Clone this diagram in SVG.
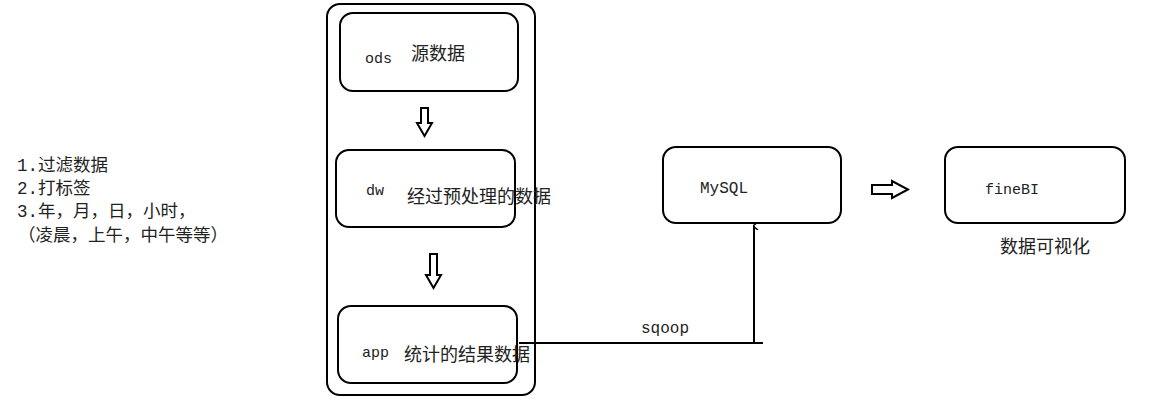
<svg xmlns="http://www.w3.org/2000/svg" width="1152" height="405" viewBox="0 0 1152 405">
<defs>
<style>
.box{fill:#fff;stroke:#000;stroke-width:2}
.harrow{fill:#fff;stroke:#000;stroke-width:2;stroke-linejoin:miter}
.mono{font-family:"Liberation Mono","Noto Sans CJK SC",monospace;fill:#222}
.cjk{font-family:"Noto Sans CJK SC","Noto Sans CJK TC",sans-serif;fill:#222}
.line{stroke:#000;stroke-width:2;fill:none}
</style>
<marker id="ah" markerWidth="8" markerHeight="8" refX="4" refY="1" orient="auto" markerUnits="userSpaceOnUse">
<path d="M0,5 L4,0 L8,5" fill="none" stroke="#000" stroke-width="1.5"/>
</marker>
</defs>
<rect width="1152" height="405" fill="#fff"/>

<g id="notes">
<text class="cjk" font-size="17.5" y="171"><tspan class="mono" x="17">1.</tspan><tspan x="38">过滤数据</tspan></text>
<text class="cjk" font-size="17.5" y="194"><tspan class="mono" x="17">2.</tspan><tspan x="38">打标签</tspan></text>
<text class="cjk" font-size="17.5" y="217"><tspan class="mono" x="17">3.</tspan><tspan x="38">年，月，日，小时，</tspan></text>
<text class="cjk" font-size="17.5" x="18" y="241">（凌晨，上午，中午等等）</text>
</g>

<g id="container">
<rect class="box" x="327" y="4" width="208" height="391" rx="13"/>
</g>

<g id="ods">
<rect class="box" x="340" y="13" width="178" height="78" rx="13"/>
<text class="mono" x="365" y="63" font-size="15">ods</text>
<text class="cjk" x="411" y="60" font-size="18">源数据</text>
</g>

<g id="dw">
<rect class="box" x="336" y="150" width="179" height="77" rx="13"/>
<text class="mono" x="366" y="195" font-size="15">dw</text>
<text class="cjk" x="407" y="203" font-size="18">经过预处理的数据</text>
</g>

<g id="app">
<rect class="box" x="338" y="306" width="179" height="77" rx="13"/>
<text class="mono" x="362" y="357" font-size="15">app</text>
<text class="cjk" x="404" y="361" font-size="18">统计的结果数据</text>
</g>

<g id="mysql">
<rect class="box" x="663" y="147" width="178" height="76" rx="13"/>
<text class="mono" x="700" y="193" font-size="16">MySQL</text>
</g>

<g id="finebi">
<rect class="box" x="945" y="147" width="180" height="76" rx="13"/>
<text class="mono" x="985" y="194" font-size="15">fineBI</text>
<text class="cjk" x="1000" y="253" font-size="18">数据可视化</text>
</g>

<g id="connectors">
<path class="harrow" d="M421,108 H428 V123 H432 L424.5,136 L417,123 H421 Z"/>
<path class="harrow" d="M430,254 H437 V275 H441 L433.5,288 L426,275 H430 Z"/>
<path class="harrow" d="M872,185 H892 V181 L908,189.5 L892,198 V194 H872 Z"/>
<path class="line" d="M519,343 H763"/>
<path class="line" d="M754,343 V226" marker-end="url(#ah)"/>
<text class="mono" x="641" y="333" font-size="16">sqoop</text>
</g>
</svg>
